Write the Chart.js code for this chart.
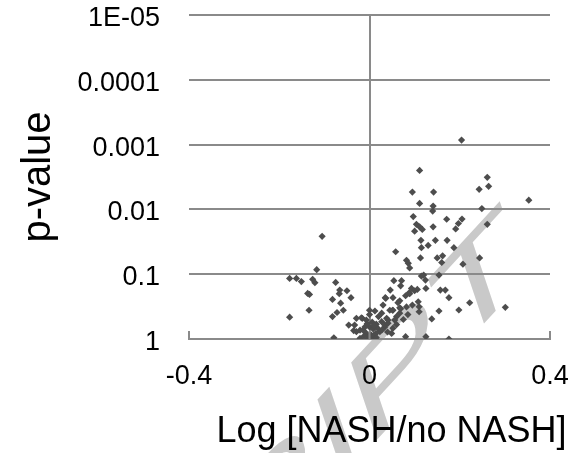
<!DOCTYPE html>
<html>
<head>
<meta charset="utf-8">
<script src="https://cdn.jsdelivr.net/npm/chart.js@4.4.0/dist/chart.umd.min.js"></script>
<style>
  html, body { margin: 0; padding: 0; background: #fff; }
  #wrap { width: 575px; height: 453px; }
</style>
</head>
<body>
<div id="wrap"><canvas id="myChart"></canvas></div>
<script>
// Log [NASH/no NASH] of each point
const logRatio = [
  0.204, 0.111, 0.261, 0.264, 0.243, 0.095, 0.142, 0.353, 0.111, 0.141,
  0.140, 0.249, 0.097, 0.171, 0.205, 0.197, 0.191, 0.261, 0.104, 0.111,
  0.117, 0.100, 0.141, 0.114, 0.146, 0.172, 0.130, 0.115, 0.187, 0.058,
  0.113, 0.150, 0.162, 0.160, 0.244, 0.207, 0.082, 0.086, 0.089, 0.115,
  0.120, 0.154, 0.124, 0.054, 0.071, 0.069, 0.125, 0.157, 0.168, 0.046,
  0.093, 0.100, 0.088, 0.035, 0.052, 0.080, 0.176, 0.067, 0.222, 0.301,
  0.108, 0.110, 0.110, 0.198, 0.154, 0.067, 0.051, 0.138, 0.080, 0.125,
  0.176, 0.027, 0.045, 0.063, 0.082, 0.069, 0.106, 0.038, 0.060, 0.041,
  0.027, 0.015, 0.000, 0.034, 0.052, 0.049, 0.023, 0.000, 0.012, 0.036,
  0.089,
  -0.117, -0.177, -0.162, -0.151, -0.126, -0.121, -0.075, -0.066, -0.067, -0.050,
  -0.137, -0.133, -0.041, -0.082, -0.064, -0.134, -0.058, -0.072, -0.082, -0.177,
  -0.046, -0.029, -0.016, -0.033, -0.035, -0.021, -0.079, -0.105,
  -0.014, -0.007, 0.004, -0.029, -0.021, -0.003, 0.000, -0.010, -0.018, -0.007,
  0.014, 0.034, 0.041, 0.056, 0.067, 0.052, 0.008, 0.018, 0.028, -0.005,
  0.006, 0.020, 0.030, 0.005, 0.010, -0.012, 0.015, 0.040, 0.060, 0.075,
  0.085, 0.095, 0.000, 0.010
];
// p-value of each point
const pValue = [
  0.00085, 0.0025, 0.0032, 0.0044, 0.0049, 0.0054, 0.0054, 0.0072, 0.0081, 0.0089,
  0.0106, 0.0097, 0.0129, 0.0142, 0.0141, 0.0165, 0.020, 0.017, 0.017, 0.0186,
  0.0204, 0.0217, 0.0186, 0.030, 0.030, 0.030, 0.036, 0.039, 0.039, 0.045,
  0.056, 0.056, 0.052, 0.066, 0.056, 0.070, 0.061, 0.068, 0.080, 0.107,
  0.103, 0.103, 0.123, 0.126, 0.126, 0.151, 0.166, 0.176, 0.176, 0.176,
  0.166, 0.18, 0.194, 0.23, 0.23, 0.215, 0.23, 0.257, 0.276, 0.325,
  0.266, 0.318, 0.38, 0.357, 0.37, 0.40, 0.36, 0.49, 0.92, 0.92,
  1.0, 0.40, 0.36, 0.275, 0.32, 0.34, 0.172, 0.48, 0.45, 0.51,
  0.54, 0.59, 0.65, 0.65, 0.68, 0.82, 0.77, 0.36, 0.37, 0.236,
  0.20,
  0.085, 0.116, 0.116, 0.13, 0.12, 0.135, 0.134, 0.176, 0.20, 0.18,
  0.198, 0.205, 0.23, 0.245, 0.28, 0.36, 0.36, 0.39, 0.45, 0.46,
  0.61, 0.48, 0.48, 0.61, 0.74, 0.73, 0.96, 0.026,
  0.73, 0.82, 0.87, 0.77, 0.975, 0.975, 0.92, 0.65, 0.47, 0.51,
  0.82, 0.61, 0.57, 0.51, 0.33, 0.36, 0.70, 0.68, 0.72, 0.58,
  0.55, 0.45, 0.30, 0.95, 0.88, 0.90, 0.95, 0.78, 0.60, 0.50,
  0.42, 0.30, 0.42, 0.62
];

const xTicks = [-0.4, 0, 0.4];
const xTickLabels = ["-0.4", "0", "0.4"];
const yTicks = [1e-5, 1e-4, 1e-3, 0.01, 0.1, 1];
const yTickLabels = ["1E-05", "0.0001", "0.001", "0.01", "0.1", "1"];
const xTitle = "Log [NASH/no NASH]";
const yTitle = "p-value";
const watermarkText = "ACCEPTED MANUSCRIPT";

const FONT = '"Liberation Sans", Arial, sans-serif';
const GRID = "#8a8a8a";

const points = logRatio.map((x, i) => ({ x: x, y: pValue[i] }));

const extras = {
  id: "extras",
  beforeDraw(chart) {
    // light grey slanted watermark of the source page, only its end shows
    const { ctx, chartArea } = chart;
    ctx.save();
    ctx.translate(chartArea.left + 301, chartArea.top + 302);
    ctx.transform(1.266, -1.375, 0.377, 1.117, 0, 0);
    ctx.font = "100px " + FONT;
    ctx.fillStyle = "#c9c9c9";
    ctx.textAlign = "right";
    ctx.textBaseline = "alphabetic";
    ctx.fillText(watermarkText, 30.5, 0);
    ctx.restore();
  },
  afterDraw(chart) {
    const { ctx, chartArea } = chart;
    const xs = chart.scales.x;
    ctx.save();
    // small inside tick marks on the horizontal axis
    ctx.strokeStyle = GRID;
    ctx.lineWidth = 2;
    xTicks.forEach((v) => {
      const px = xs.getPixelForValue(v);
      ctx.beginPath();
      ctx.moveTo(px, chartArea.bottom);
      ctx.lineTo(px, chartArea.bottom - 8);
      ctx.stroke();
    });
    // x axis title (sits a little right of centre in the original)
    ctx.font = "36px " + FONT;
    ctx.fillStyle = "#000";
    ctx.textAlign = "center";
    ctx.textBaseline = "alphabetic";
    ctx.fillText(xTitle, (chartArea.left + chartArea.right) / 2 + 22, chartArea.bottom + 103);
    ctx.restore();
  },
};

new Chart(document.getElementById("myChart"), {
  type: "scatter",
  data: {
    datasets: [
      {
        data: points,
        pointStyle: "rectRot",
        pointRadius: 3.6,
        pointBackgroundColor: "#4d4d4d",
        pointBorderWidth: 0,
      },
    ],
  },
  options: {
    responsive: true,
    maintainAspectRatio: false,
    animation: false,
    devicePixelRatio: 1,
    layout: { padding: { left: 0, right: 25, top: 15, bottom: 0 } },
    plugins: {
      legend: { display: false },
      tooltip: { enabled: false },
    },
    scales: {
      x: {
        type: "linear",
        min: -0.4,
        max: 0.4,
        afterBuildTicks: (s) => {
          s.ticks = xTicks.map((v) => ({ value: v }));
        },
        afterFit: (s) => {
          s.height = 114;
          s.paddingLeft = 0;
          s.paddingRight = 0;
        },
        ticks: {
          autoSkip: false,
          maxRotation: 0,
          padding: 21,
          color: "#000",
          font: { family: FONT, size: 27 },
          callback: (v, i) => xTickLabels[i],
        },
        grid: {
          drawTicks: false,
          lineWidth: 2,
          color: (c) => (c.tick && c.tick.value === 0 ? GRID : "rgba(0,0,0,0)"),
        },
        border: { display: true, color: GRID, width: 2 },
      },
      y: {
        type: "logarithmic",
        reverse: true,
        min: 1e-5,
        max: 1,
        afterBuildTicks: (s) => {
          s.ticks = yTicks.map((v) => ({ value: v }));
        },
        afterFit: (s) => {
          s.width = 189;
          s.paddingTop = 0;
          s.paddingBottom = 0;
        },
        ticks: {
          autoSkip: false,
          padding: 29,
          color: "#000",
          // empty first line nudges each label a few px below its gridline
          font: { family: FONT, size: 27, lineHeight: "7px" },
          callback: (v, i) => ["", yTickLabels[i]],
        },
        grid: { drawTicks: false, lineWidth: 2, color: GRID },
        border: { display: false },
        title: {
          display: true,
          text: yTitle,
          color: "#000",
          font: { family: FONT, size: 40 },
          padding: { top: 15, bottom: 0 },
        },
      },
    },
  },
  plugins: [extras],
});
</script>
</body>
</html>
